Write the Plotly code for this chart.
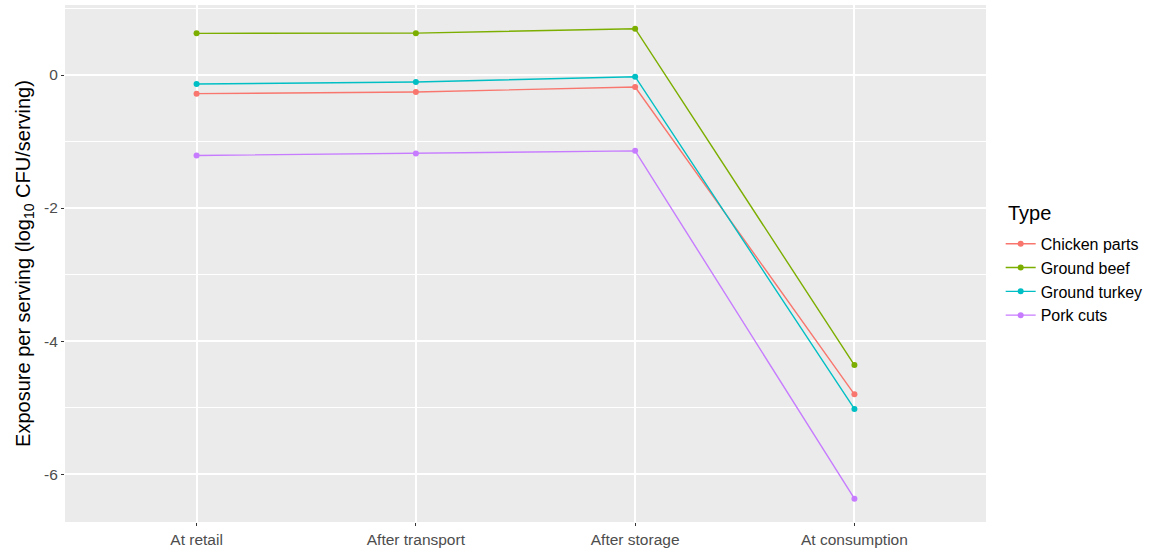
import plotly.graph_objects as go

# Stages along the supply chain
stages = ["At retail", "After transport", "After storage", "At consumption"]

# Mean exposure per serving, log10 CFU/serving
chicken_parts = [-0.28, -0.255, -0.18, -4.80]
ground_beef = [0.627, 0.63, 0.696, -4.36]
ground_turkey = [-0.135, -0.105, -0.025, -5.02]
pork_cuts = [-1.21, -1.18, -1.14, -6.37]

series = [
    ("Chicken parts", chicken_parts, "#F8766D"),
    ("Ground beef", ground_beef, "#7CAE00"),
    ("Ground turkey", ground_turkey, "#00BFC4"),
    ("Pork cuts", pork_cuts, "#C77CFF"),
]

y_ticks = [0, -2, -4, -6]

font_family = "Arial, Liberation Sans, sans-serif"

fig = go.Figure()
for name, values, color in series:
    fig.add_trace(go.Scatter(
        x=list(range(len(stages))),
        y=values,
        name=name,
        mode="lines+markers",
        line=dict(color=color, width=1.4),
        marker=dict(color=color, size=6),
    ))

# Legend heading placed separately for a roomier gap above the entries
fig.add_annotation(
    text="Type",
    xref="paper", yref="paper",
    x=1.022, y=0.573,
    xanchor="left", yanchor="bottom",
    showarrow=False,
    font=dict(size=20, color="black", family=font_family),
)

fig.update_layout(
    width=1151,
    height=552,
    margin=dict(l=65, r=165, t=5, b=30),
    paper_bgcolor="white",
    plot_bgcolor="#EBEBEB",
    font=dict(family=font_family, color="#4D4D4D", size=15),
    showlegend=True,
    legend=dict(
        font=dict(size=16, color="black"),
        xref="container",
        yref="container",
        x=0.8694,
        y=0.589,
        xanchor="left",
        yanchor="top",
        bgcolor="rgba(0,0,0,0)",
        itemwidth=30,
        tracegroupgap=0,
    ),
    xaxis=dict(
        range=[-0.6, len(stages) - 1 + 0.6],
        tickmode="array",
        tickvals=list(range(len(stages))),
        ticktext=stages,
        showgrid=True,
        gridcolor="white",
        gridwidth=1.5,
        zeroline=False,
        ticks="outside",
        ticklen=3,
        tickcolor="#333333",
        tickfont=dict(size=15.5, color="#4D4D4D"),
        showline=False,
    ),
    yaxis=dict(
        range=[-6.72, 1.053],
        tickmode="array",
        tickvals=y_ticks,
        ticktext=[str(v) if v >= 0 else "-" + str(-v) for v in y_ticks],
        showgrid=True,
        gridcolor="white",
        gridwidth=1.5,
        zeroline=False,
        ticks="outside",
        ticklen=3,
        tickcolor="#333333",
        tickfont=dict(size=15.5, color="#4D4D4D"),
        minor=dict(dtick=1, tick0=0, showgrid=True, gridcolor="white", gridwidth=0.6, ticks=""),
        title=dict(
            text="Exposure per serving (log<sub>10</sub> CFU/serving)",
            font=dict(size=20, color="black"),
            standoff=8,
        ),
        showline=False,
    ),
)

fig.write_html("out.html")
